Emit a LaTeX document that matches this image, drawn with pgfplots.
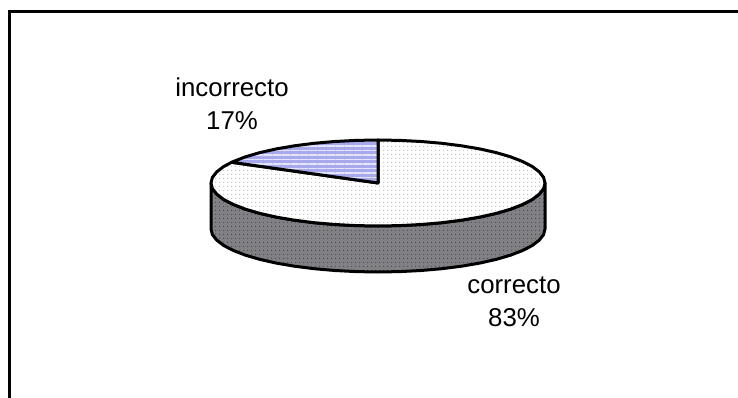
\documentclass[border=0pt]{standalone}
\usepackage{fontspec}
\setmainfont{Liberation Sans}
\usepackage{pgfplots}
\usetikzlibrary{patterns.meta}
\pgfplotsset{compat=1.18}
\definecolor{rimgrey}{HTML}{808085}
\definecolor{slicefill}{HTML}{A8A8EC}
% Rim of the disc: lower half of the top ellipse, then the same half shifted down
\pgfplotstableread{
x y
211 183
212.4 188.6
216.7 194.1
223.7 199.5
233.4 204.5
245.5 209.2
259.9 213.4
276.3 217.1
294.5 220.2
314.1 222.7
334.8 224.5
356.2 225.6
378 226
399.8 225.6
421.2 224.5
441.9 222.7
461.5 220.2
479.7 217.1
496.1 213.4
510.5 209.2
522.6 204.5
532.3 199.5
539.3 194.1
543.6 188.6
545 183
545 229
543.6 234.6
539.3 240.1
532.3 245.5
522.6 250.5
510.5 255.2
496.1 259.4
479.7 263.1
461.5 266.2
441.9 268.7
421.2 270.5
399.8 271.6
378 272
356.2 271.6
334.8 270.5
314.1 268.7
294.5 266.2
276.3 263.1
259.9 259.4
245.5 255.2
233.4 250.5
223.7 245.5
216.7 240.1
212.4 234.6
211 229
211 183
}\rimdata
% Share "correcto", 83 percent
\pgfplotstableread{
x y
378 183
378 140
399.8 140.4
421.2 141.5
441.9 143.3
461.5 145.8
479.7 148.9
496.1 152.6
510.5 156.8
522.6 161.5
532.3 166.5
539.3 171.9
543.6 177.4
545 183
543.6 188.6
539.3 194.1
532.3 199.5
522.6 204.5
510.5 209.2
496.1 213.4
479.7 217.1
461.5 220.2
441.9 222.7
421.2 224.5
399.8 225.6
378 226
356.2 225.6
334.8 224.5
314.1 222.7
294.5 220.2
276.3 217.1
259.9 213.4
245.5 209.2
233.4 204.5
223.7 199.5
216.7 194.1
212.4 188.6
211 183
212.4 177.4
216.7 171.9
223.7 166.5
231.7 162.3
378 183
}\correctodata
% Share "incorrecto", 17 percent
\pgfplotstableread{
x y
378 183
231.7 162.3
233.4 161.5
245.5 156.8
259.9 152.6
276.3 148.9
294.5 145.8
314.1 143.3
334.8 141.5
356.2 140.4
378 140
378 183
}\incorrectodata
\begin{document}
\begin{tikzpicture}
\begin{axis}[
  scale only axis, width=738pt, height=398pt,
  xmin=0, xmax=738, ymin=0, ymax=398, y dir=reverse,
  hide axis, clip=true,
  every axis plot/.append style={no markers},
  outline/.style={black, line width=3pt, line join=round, line cap=round},
]
% Full page extent
\path (axis cs:0,0) rectangle (axis cs:738,398);
% Rim
\addplot[draw=none, fill=rimgrey] table {\rimdata};
\addplot[draw=none, pattern={Dots[distance=4pt, radius=0.8pt]}, pattern color=black!40!rimgrey] table {\rimdata};
\addplot[outline] table {\rimdata};
% Top face, large share
\addplot[draw=none, fill=white] table {\correctodata};
\addplot[draw=none, pattern={Dots[distance=4pt, radius=0.7pt]}, pattern color=gray!50!white] table {\correctodata};
\addplot[outline] table {\correctodata};
% Top face, small share
\addplot[draw=none, fill=slicefill] table {\incorrectodata};
\addplot[draw=none, pattern={Lines[angle=0, distance=4.5pt, line width=1.4pt]}, pattern color=white!70!slicefill] table {\incorrectodata};
\addplot[outline] table {\incorrectodata};
% Outer frame, open at the right and at the bottom
\addplot[black, line width=3pt] coordinates {(9.5,398) (9.5,11.5) (738,11.5)};
\node[font=\fontsize{25.8}{33}\selectfont, align=center] at (axis cs:232,104) {incorrecto\\17\%};
\node[font=\fontsize{25.8}{33}\selectfont, align=center] at (axis cs:514,302) {correcto\\83\%};
\end{axis}
\end{tikzpicture}
\end{document}
